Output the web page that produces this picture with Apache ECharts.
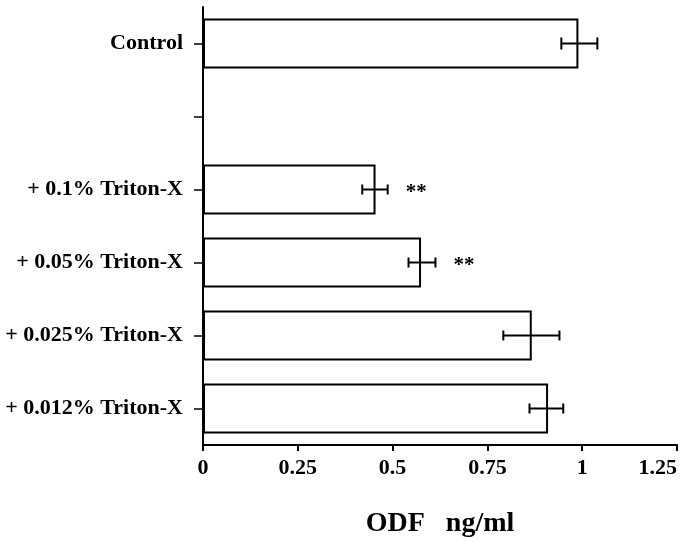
<!DOCTYPE html>
<html>
<head>
<meta charset="utf-8">
<script src="https://cdn.jsdelivr.net/npm/echarts@6/dist/echarts.min.js"></script>
<style>
  html, body { margin: 0; padding: 0; background: #fff; }
  #chart { width: 693px; height: 542px; }
</style>
</head>
<body>
<div id="chart"></div>
<script>
  // values
  var categories = ['Control', '', '+ 0.1% Triton-X', '+ 0.05% Triton-X', '+ 0.025% Triton-X', '+ 0.012% Triton-X'];
  var means = [0.99, null, 0.455, 0.575, 0.867, 0.91];
  var errLow = [0.945, null, 0.42, 0.542, 0.792, 0.861];
  var errHigh = [1.04, null, 0.487, 0.613, 0.94, 0.95];
  var marks = ['', '', '**', '**', '', ''];
  var xTicks = [0, 0.25, 0.5, 0.75, 1, 1.25];

  var font = 'Liberation Serif';

  var errData = [];
  for (var i = 0; i < categories.length; i++) {
    if (errLow[i] != null) errData.push([i, errLow[i], errHigh[i], marks[i]]);
  }

  var chart = echarts.init(document.getElementById('chart'));
  var option = {
    backgroundColor: '#fff',
    animation: false,
    grid: { left: 203, right: 16, top: 7, bottom: 97, containLabel: false, outerBoundsMode: 'none' },
    xAxis: {
      type: 'value',
      min: xTicks[0],
      max: xTicks[xTicks.length - 1],
      interval: 0.25,
      name: 'ODF   ng/ml',
      nameLocation: 'middle',
      nameGap: 65,
      nameTextStyle: { fontFamily: font, fontWeight: 'bold', fontSize: 28, color: '#000' },
      axisLine: { show: true, lineStyle: { color: '#000', width: 2 } },
      axisTick: { show: true, length: 6, lineStyle: { color: '#000', width: 2 } },
      axisLabel: { margin: 12, fontFamily: font, fontWeight: 'bold', fontSize: 22, color: '#000', alignMaxLabel: 'right' },
      splitLine: { show: false }
    },
    yAxis: {
      type: 'category',
      data: categories,
      inverse: true,
      axisLine: { show: true, lineStyle: { color: '#000', width: 2 } },
      axisTick: { show: true, alignWithLabel: true, length: 9, lineStyle: { color: '#000', width: 1.5 } },
      axisLabel: { margin: 20, fontFamily: font, fontWeight: 'bold', fontSize: 22, color: '#000' },
      splitLine: { show: false }
    },
    series: [
      {
        type: 'bar',
        data: means,
        barWidth: 50,
        itemStyle: { color: '#fff', borderColor: '#000', borderWidth: 2 }
      },
      {
        type: 'custom',
        data: errData,
        encode: { y: 0, x: [1, 2] },
        z: 5,
        renderItem: function (params, api) {
          var idx = api.value(0);
          var lo = api.coord([api.value(1), idx]);
          var hi = api.coord([api.value(2), idx]);
          var h = idx === 0 ? 6 : 5;
          var style = { stroke: '#000', lineWidth: 2 };
          var children = [
            { type: 'line', shape: { x1: lo[0], y1: lo[1], x2: hi[0], y2: hi[1] }, style: style },
            { type: 'line', shape: { x1: lo[0], y1: lo[1] - h, x2: lo[0], y2: lo[1] + h }, style: style },
            { type: 'line', shape: { x1: hi[0], y1: hi[1] - h, x2: hi[0], y2: hi[1] + h }, style: style }
          ];
          var m = errData[params.dataIndex][3];
          if (m) {
            children.push({
              type: 'text',
              style: {
                text: m, x: hi[0] + 18, y: hi[1] + 3,
                fontFamily: font, fontWeight: 'bold', fontSize: 21,
                fill: '#000', verticalAlign: 'middle'
              }
            });
          }
          return { type: 'group', children: children };
        }
      }
    ]
  };
  chart.setOption(option);
</script>
</body>
</html>
